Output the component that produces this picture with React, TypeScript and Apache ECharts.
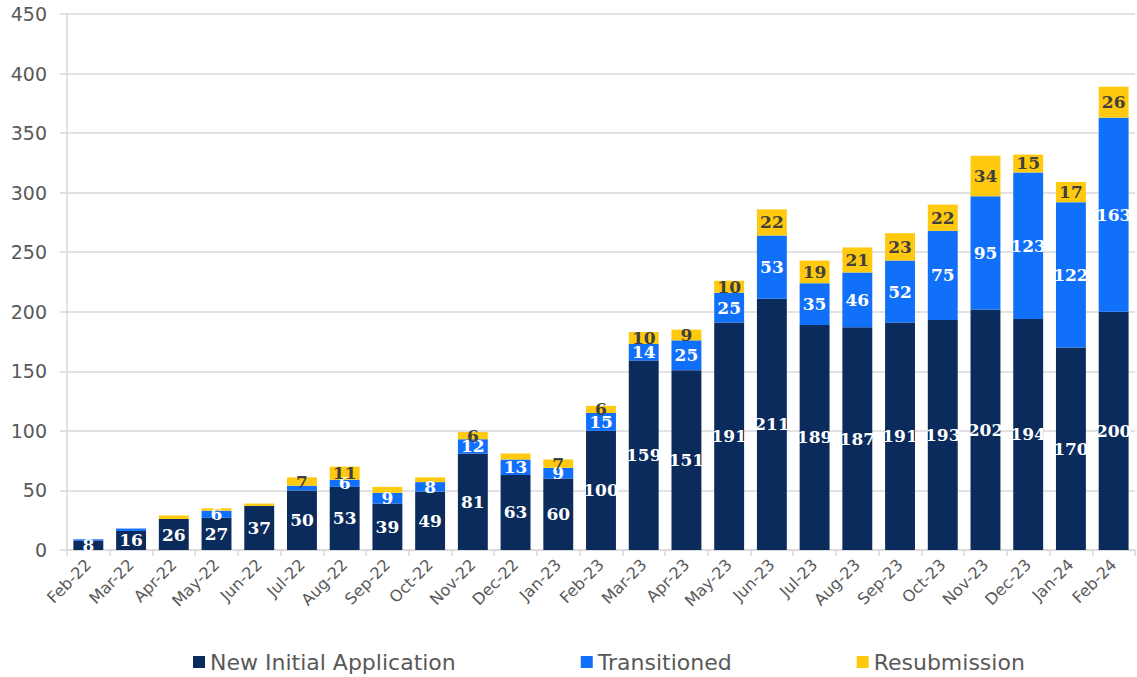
import React, { useEffect, useRef } from "react";
import * as echarts from "echarts";

const categories = [
  "Feb-22", "Mar-22", "Apr-22", "May-22", "Jun-22", "Jul-22", "Aug-22", "Sep-22", "Oct-22",
  "Nov-22", "Dec-22", "Jan-23", "Feb-23", "Mar-23", "Apr-23", "May-23", "Jun-23", "Jul-23",
  "Aug-23", "Sep-23", "Oct-23", "Nov-23", "Dec-23", "Jan-24", "Feb-24",
];
const newInitial = [8, 16, 26, 27, 37, 50, 53, 39, 49, 81, 63, 60, 100, 159, 151, 191, 211, 189, 187, 191, 193, 202, 194, 170, 200];
const transitioned = [1, 2, 0, 6, 0, 4, 6, 9, 8, 12, 13, 9, 15, 14, 25, 25, 53, 35, 46, 52, 75, 95, 123, 122, 163];
const resubmission = [0, 0, 3, 2, 2, 7, 11, 5, 4, 6, 5, 7, 6, 10, 9, 10, 22, 19, 21, 23, 22, 34, 15, 17, 26];
const yTicks = { min: 0, max: 450, interval: 50 };

const LABEL_MIN = 6;

export default function App() {
  const ref = useRef<HTMLDivElement>(null);
  useEffect(() => {
    if (!ref.current) return;
    const chart = echarts.init(ref.current, undefined, { renderer: "svg" });
    const labelFor = (color: string) => ({
      show: true,
      position: "inside" as const,
      color,
      fontFamily: "DejaVu Serif",
      fontWeight: "bold" as const,
      fontSize: 17,
      formatter: (p: any) => (p.value >= LABEL_MIN ? String(p.value) : ""),
    });
    const mk = (name: string, data: number[], color: string, labelColor: string) => ({
      name,
      type: "bar" as const,
      stack: "total",
      data,
      barWidth: "70%",
      itemStyle: { color },
      label: labelFor(labelColor),
    });
    chart.setOption({
      animation: false,
      textStyle: { fontFamily: "DejaVu Sans" },
      grid: { left: 67, right: 2, top: 14, bottom: 127, containLabel: false },
      legend: {
        top: 646,
        left: 188,
        itemWidth: 12,
        itemHeight: 12,
        itemGap: 125,
        icon: "rect",
        textStyle: { fontSize: 22, color: "#595959", fontFamily: "DejaVu Sans" },
        data: ["New Initial Application", "Transitioned", "Resubmission"],
      },
      xAxis: {
        type: "category",
        data: categories,
        axisLine: { lineStyle: { color: "#D9D9D9", width: 1.5 } },
        axisTick: { show: true, length: 6, lineStyle: { color: "#D9D9D9", width: 1.5 } },
        axisLabel: { rotate: 45, fontSize: 16, color: "#595959", margin: 12, interval: 0 },
      },
      yAxis: {
        type: "value",
        min: yTicks.min,
        max: yTicks.max,
        interval: yTicks.interval,
        axisLine: { show: true, lineStyle: { color: "#D9D9D9", width: 1.5 } },
        axisTick: { show: true, length: 7, lineStyle: { color: "#D9D9D9", width: 1.5 } },
        axisLabel: { fontSize: 19, color: "#595959", margin: 20 },
        splitLine: { lineStyle: { color: "#D9D9D9", width: 1.5 } },
      },
      series: [
        mk("New Initial Application", newInitial, "#0A2B5C", "#FFFFFF"),
        mk("Transitioned", transitioned, "#1170FA", "#FFFFFF"),
        mk("Resubmission", resubmission, "#FFC90E", "#404040"),
      ],
    });
    return () => chart.dispose();
  }, []);
  return (
    <div
      ref={ref}
      style={{ position: "fixed", left: 0, top: 0, width: 1137, height: 677, background: "#fff" }}
    />
  );
}
